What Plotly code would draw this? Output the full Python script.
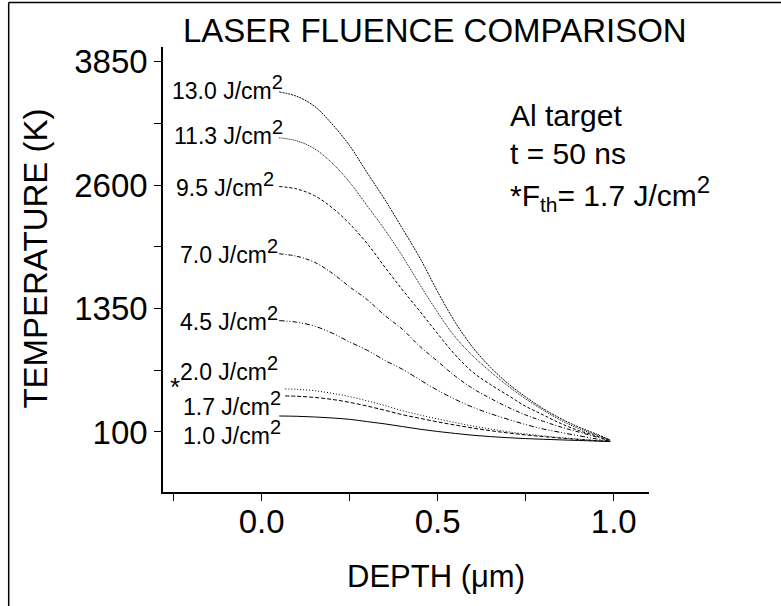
import plotly.graph_objects as go

# ---------------- data ----------------
DEPTH = [0.05, 0.10, 0.15, 0.20, 0.25, 0.30, 0.35, 0.40, 0.45, 0.50,
         0.55, 0.60, 0.65, 0.70, 0.75, 0.80, 0.85, 0.90, 0.95, 0.99]
DEPTH_LOW = [0.067, 0.10, 0.15, 0.20, 0.25, 0.30, 0.35, 0.40, 0.45, 0.50,
             0.55, 0.60, 0.65, 0.70, 0.75, 0.80, 0.85, 0.90, 0.95, 0.99]

T_13_0 = [3545, 3500, 3400, 3220, 3000, 2725, 2454, 2160, 1860, 1520,
          1210, 955, 755, 590, 455, 335, 235, 150, 80, 20]
T_11_3 = [3080, 3050, 2970, 2825, 2630, 2390, 2148, 1880, 1590, 1310,
          1060, 870, 710, 565, 435, 320, 218, 135, 70, 18]
T_9_5 = [2587, 2562, 2494, 2373, 2209, 2008, 1770, 1540, 1320, 1095,
         880, 705, 580, 470, 360, 272, 185, 115, 60, 15]
T_7_0 = [1905, 1880, 1820, 1710, 1570, 1440, 1280, 1140, 965, 815,
         665, 540, 440, 350, 272, 208, 150, 100, 50, 12]
T_4_5 = [1228, 1212, 1173, 1102, 1012, 928, 825, 735, 627, 522,
         430, 350, 285, 228, 175, 130, 95, 62, 30, 8]
T_2_0 = [536, 532, 518, 492, 458, 415, 368, 315, 272, 232,
         195, 160, 130, 102, 80, 60, 43, 28, 14, 5]
T_1_7 = [465, 462, 450, 430, 400, 362, 320, 275, 238, 202,
         170, 140, 113, 90, 70, 53, 38, 25, 12, 4]
T_1_0 = [262, 259, 252, 242, 228, 205, 182, 155, 128, 105,
         85, 67, 53, 42, 33, 26, 20, 14, 8, 3]

LABELS = ["13.0", "11.3", "9.5", "7.0", "4.5", "2.0", "1.7", "1.0"]
SERIES = [T_13_0, T_11_3, T_9_5, T_7_0, T_4_5, T_2_0, T_1_7, T_1_0]
XS = [DEPTH, DEPTH, DEPTH, DEPTH, DEPTH, DEPTH_LOW, DEPTH_LOW, DEPTH]
DASHES = ["2px,1px", "1px,1px", "3px,2px", "4px,2px,1px,2px",
          "5px,2px,1px,2px,1px,2px", "1px,2px", "4px,2px", "solid"]
# label anchor positions (right end of text, data coords)
LABEL_X = [0.066, 0.066, 0.040, 0.052, 0.052, 0.052, 0.060, 0.060]
LABEL_Y = [3590, 3130, 2610, 1930, 1250, 740, 390, 90]

Y_TICKS = [100, 1350, 2600, 3850]
X_TICKS = [0.0, 0.5, 1.0]

FONT = "Arial, Liberation Sans, sans-serif"
SUP = "<sup><span style='font-size:20px'>2</span></sup>"

fig = go.Figure()
for xs, ys, dash in zip(XS, SERIES, DASHES):
    fig.add_trace(go.Scatter(x=xs, y=ys, mode="lines",
                             line=dict(color="black", width=1, dash=dash, shape="spline"),
                             showlegend=False, hoverinfo="skip"))

ann = []
for lab, lx, ly in zip(LABELS, LABEL_X, LABEL_Y):
    ann.append(dict(x=lx, y=ly, xref="x", yref="y", text=f"{lab} J/cm{SUP}",
                    showarrow=False, xanchor="right", yanchor="middle",
                    font=dict(size=23, family=FONT, color="black")))
ann.append(dict(x=-0.246, y=560, xref="x", yref="y", text="*", showarrow=False,
                xanchor="center", yanchor="middle",
                font=dict(size=26, family=FONT, color="black")))
SUP2 = "<sup><span style='font-size:24px'>2</span></sup>"
for t, py in [("Al target", 0.845), ("t = 50 ns", 0.760),
              (f"*F<sub>th</sub>= 1.7 J/cm{SUP2}", 0.670)]:
    ann.append(dict(x=0.71, y=py, xref="paper", yref="paper", text=t, showarrow=False,
                    xanchor="left", yanchor="middle",
                    font=dict(size=30, family=FONT, color="black")))
ann.append(dict(x=0.56, y=1.038, xref="paper", yref="paper", text="LASER FLUENCE COMPARISON",
                showarrow=False, xanchor="center", yanchor="middle",
                font=dict(size=33, family=FONT, color="black")))
ann.append(dict(x=0.562, y=-0.190, xref="paper", yref="paper", text="DEPTH (\u03bcm)",
                showarrow=False, xanchor="center", yanchor="middle",
                font=dict(size=31, family=FONT, color="black")))
ann.append(dict(x=-0.263, y=0.525, xref="paper", yref="paper", text="TEMPERATURE (K)",
                showarrow=False, xanchor="center", yanchor="middle", textangle=-90,
                font=dict(size=33, family=FONT, color="black")))

shapes = [
    dict(type="line", xref="paper", yref="paper", x0=-0.3175, x1=1.3, y0=1.1, y1=1.1,
         line=dict(color="black", width=1.5)),
    dict(type="line", xref="paper", yref="paper", x0=-0.3175, x1=-0.3175, y0=1.1, y1=-0.3,
         line=dict(color="black", width=1.5)),
]

fig.update_layout(
    width=781, height=606,
    margin=dict(l=163, r=132, t=47, b=114),
    paper_bgcolor="white", plot_bgcolor="white",
    annotations=ann, shapes=shapes,
    font=dict(family=FONT, color="black"),
    xaxis=dict(range=[-0.28, 1.10], tickvals=X_TICKS, ticktext=["0.0", "0.5", "1.0"],
               ticks="outside", ticklen=7, tickwidth=1, tickcolor="black",
               ticklabelstandoff=-7,
               showline=True, linecolor="black", linewidth=1.5, showgrid=False,
               zeroline=False, tickfont=dict(size=33, family=FONT, color="black"),
               minor=dict(tickvals=[-0.25, 0.25, 0.75], ticks="outside", ticklen=7,
                          tickcolor="black", tickwidth=1, showgrid=False)),
    yaxis=dict(range=[-508, 4000], tickvals=Y_TICKS,
               ticks="outside", ticklen=7, tickwidth=1, tickcolor="black",
               showline=True, linecolor="black", linewidth=1.5, showgrid=False,
               zeroline=False, tickfont=dict(size=33, family=FONT, color="black"),
               minor=dict(tickvals=[725, 1975, 3225], ticks="outside", ticklen=7,
                          tickcolor="black", tickwidth=1, showgrid=False)),
)

fig.write_html("out.html")
